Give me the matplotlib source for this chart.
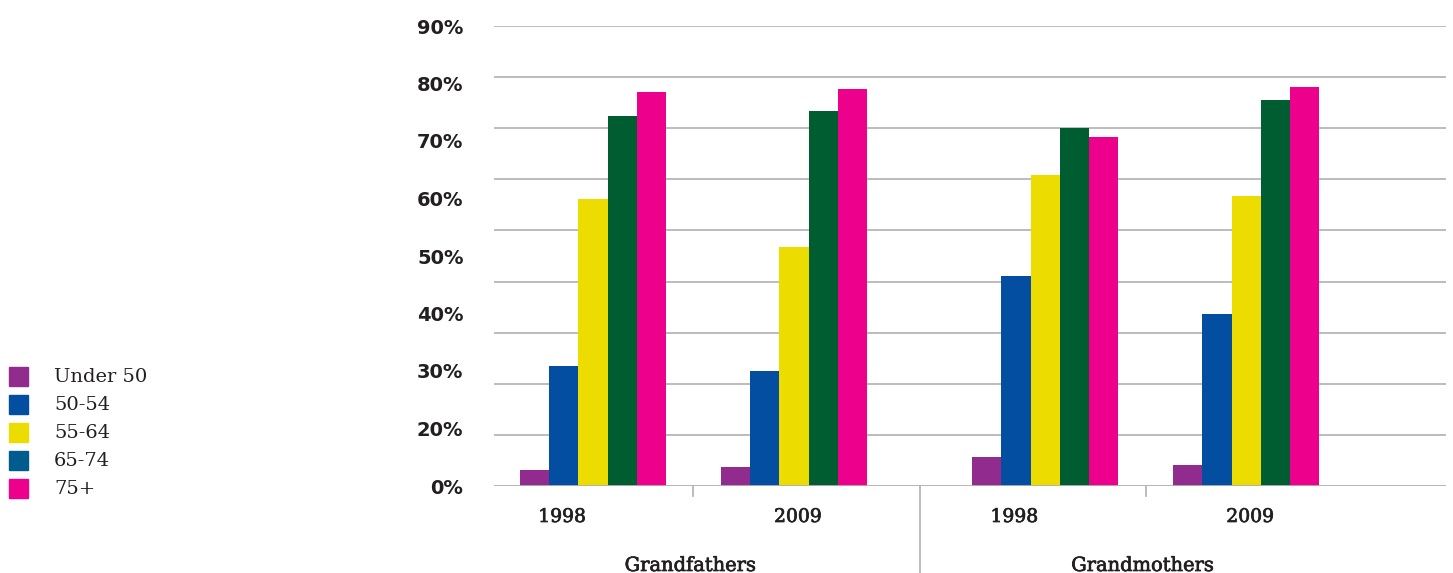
import numpy as np
import matplotlib
matplotlib.use("Agg")
import matplotlib.pyplot as plt
from matplotlib.patches import Rectangle
import matplotlib.patheffects as pe

# --- data -------------------------------------------------------------
age_groups = ["Under 50", "50-54", "55-64", "65-74", "75+"]
periods = ["1998", "2009", "1998", "2009"]
parents = ["Grandfathers", "Grandmothers"]

# share (%) per period, one list per age group
under_50 = [3.1, 3.7, 5.7, 4.1]
age_50_54 = [23.5, 22.5, 41.1, 33.7]
age_55_64 = [56.2, 46.8, 60.8, 56.7]
age_65_74 = [72.4, 73.4, 70.0, 75.5]
age_75_plus = [77.1, 77.7, 68.3, 78.1]
series = [under_50, age_50_54, age_55_64, age_65_74, age_75_plus]

ytick_labels = ["0%", "20%", "30%", "40%", "50%", "60%", "70%", "80%", "90%"]

# --- style ------------------------------------------------------------
bar_colors = ["#912B8E", "#044EA2", "#EDDC00", "#005C31", "#EC008C"]
legend_colors = ["#912B8E", "#044EA2", "#EDDC00", "#005C8F", "#EC008C"]
text_color = "#231F20"
grid_color = "#B0B0B0"
medium = [pe.withStroke(linewidth=0.5, foreground=text_color)]

W, H = 1453, 573
fig = plt.figure(figsize=(W / 100, H / 100), dpi=100)
ax = fig.add_axes([494 / W, 1 - 486 / H, (1446 - 494) / W, (486 - 26) / H])

# group layout: two periods per parent, extra gap between parents
group_gap = 0.25
centers = np.array([i + group_gap * (i // 2) for i in range(len(periods))])
bar_w = 0.1453
offsets = (np.arange(len(age_groups)) - (len(age_groups) - 1) / 2) * bar_w

for vals, off, col in zip(series, offsets, bar_colors):
    ax.bar(centers + off, vals, width=bar_w, color=col, linewidth=0, zorder=3)

ax.set_xlim(-0.4925, 4.244)
ax.set_ylim(0, 90)

# horizontal grid every 10%
for g in range(10, 100, 10):
    ax.axhline(g, color=grid_color, lw=1.2, zorder=1)
ax.axhline(0, color=grid_color, lw=1.3, zorder=4)

# y labels spread evenly over the axis
ax.set_yticks(np.linspace(0, 90, len(ytick_labels)))
ax.set_yticklabels(ytick_labels, fontsize=14, fontweight="bold",
                   color=text_color, family="DejaVu Sans")
ax.tick_params(axis="y", length=0, pad=22)

ax.set_xticks([])
for s in ax.spines.values():
    s.set_visible(False)

# short ticks between periods and a long divider between parents
trans = ax.get_xaxis_transform()
half = [(centers[0] + centers[1]) / 2, (centers[2] + centers[3]) / 2]
sep = (centers[1] + centers[2]) / 2
for xt in half:
    ax.plot([xt, xt], [0, -10 / 460], transform=trans, color=grid_color,
            lw=1.2, clip_on=False)
ax.plot([sep, sep], [0, -87 / 460], transform=trans, color=grid_color,
        lw=1.2, clip_on=False)

# period labels and parent labels
label_shift = [-0.154, 0.02, -0.154, 0.02]
for c, p, sh in zip(centers, periods, label_shift):
    ax.text(c + sh, -31 / 460, p, transform=trans, ha="center", va="center",
            fontsize=13.5, color=text_color, family="DejaVu Serif",
            path_effects=medium)
for xt, name in zip(half, parents):
    ax.text(xt - 0.015, -80 / 460, name, transform=trans, ha="center",
            va="center", fontsize=14, color=text_color,
            family="DejaVu Serif", path_effects=medium)

# legend on the far left
for i, (lab, col) in enumerate(zip(age_groups, legend_colors)):
    yc = 376.5 + i * 28
    fig.patches.append(Rectangle((9 / W, 1 - (yc + 9.5) / H), 19 / W, 19 / H,
                                 transform=fig.transFigure, color=col))
    fig.text(54 / W, 1 - yc / H, lab, ha="left", va="center", fontsize=14,
             color=text_color, family="DejaVu Serif")

fig.savefig("out.png", dpi=100, facecolor="white")
